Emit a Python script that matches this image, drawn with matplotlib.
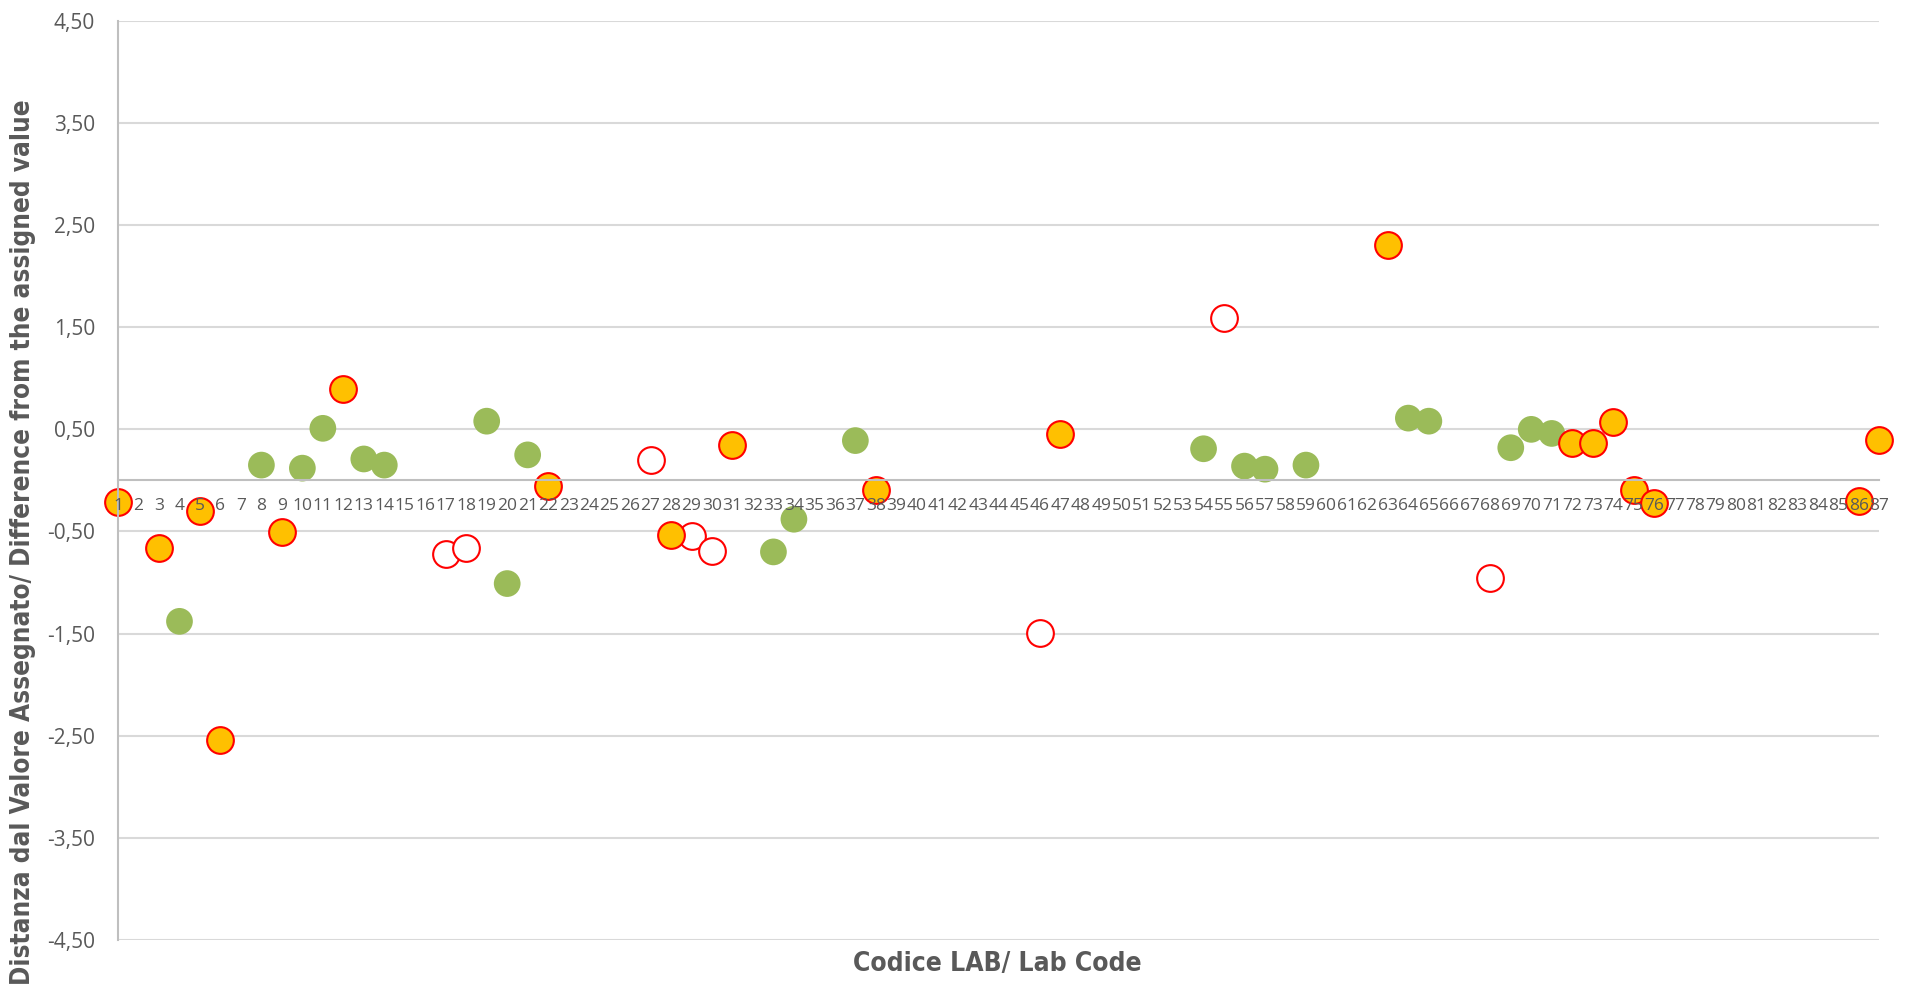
import matplotlib
matplotlib.use("Agg")
import matplotlib.pyplot as plt

# ---- data ----
lab_codes = list(range(1, 88))
yticks = [-4.5, -3.5, -2.5, -1.5, -0.5, 0.5, 1.5, 2.5, 3.5, 4.5]

green_labs = [4, 8, 10, 11, 13, 14, 19, 20, 21, 33, 34, 37, 54, 56, 57, 59, 64, 65, 69, 70, 71]
green_vals = [-1.38, 0.15, 0.12, 0.51, 0.21, 0.15, 0.58, -1.01, 0.25, -0.70, -0.38, 0.39,
              0.31, 0.14, 0.11, 0.15, 0.61, 0.58, 0.32, 0.50, 0.46]

white_labs = [17, 18, 27, 29, 30, 46, 55, 68]
white_vals = [-0.72, -0.66, 0.20, -0.54, -0.69, -1.49, 1.59, -0.96]

orange_labs = [1, 3, 5, 6, 9, 12, 22, 28, 31, 38, 47, 63, 72, 73, 74, 75, 76, 86, 87]
orange_vals = [-0.21, -0.66, -0.30, -2.54, -0.51, 0.90, -0.05, -0.53, 0.345, -0.09, 0.455,
               2.31, 0.37, 0.37, 0.57, -0.09, -0.22, -0.20, 0.40]

# ---- figure ----
fig = plt.figure(figsize=(19.10, 9.93), dpi=100)
ax = fig.add_axes([0.0618, 0.0534, 0.984 - 0.0618, 0.979 - 0.0534])

GRID = "#D9D9D9"
AXC = "#BFBFBF"
TXT = "#595959"

for yt in yticks:
    ax.axhline(yt, color=GRID, lw=1.5, zorder=0.5)

ms = 370
ax.scatter(green_labs, green_vals, s=ms, color="#9BBB59", edgecolors="none", zorder=2, clip_on=False)
ax.scatter(white_labs, white_vals, s=ms, facecolors="white", edgecolors="#FF0000", linewidths=1.5,
           zorder=2, clip_on=False)
ax.scatter(orange_labs, orange_vals, s=ms, facecolors="#FFC000", edgecolors="#FF0000", linewidths=1.5,
           zorder=2, clip_on=False)

ax.set_xlim(1, 87)
ax.set_ylim(-4.5, 4.5)

ax.spines["top"].set_visible(False)
ax.spines["right"].set_visible(False)
ax.spines["bottom"].set_position(("data", 0))
ax.spines["bottom"].set_color(AXC)
ax.spines["bottom"].set_linewidth(1.5)
ax.spines["left"].set_color(AXC)
ax.spines["left"].set_linewidth(1.5)
ax.set_axisbelow(False)
ax.xaxis.set_zorder(5)
ax.yaxis.set_zorder(5)

ax.set_xticks(lab_codes)
ax.set_xticklabels([str(c) for c in lab_codes], fontsize=12.5, color=TXT, family="Open Sans")
ax.tick_params(axis="x", length=0, pad=12.5)
ax.set_yticks(yticks)
ax.set_yticklabels([f"{v:.2f}".replace(".", ",") for v in yticks], fontsize=15, color=TXT,
                   family="Open Sans")
ax.tick_params(axis="y", length=0, pad=16.5)

fig.text(0.522, 0.029, "Codice LAB/ Lab Code", ha="center", va="center", fontsize=19,
         fontweight="bold", color=TXT, family="DejaVu Sans", fontstretch="condensed")
fig.text(0.012, 0.454, "Distanza dal Valore Assegnato/ Difference from the assigned value",
         ha="center", va="center", rotation=90, fontsize=18.7, fontweight="bold", color=TXT,
         family="DejaVu Sans", fontstretch="condensed")

fig.savefig("out.png", dpi=100, facecolor="white")
